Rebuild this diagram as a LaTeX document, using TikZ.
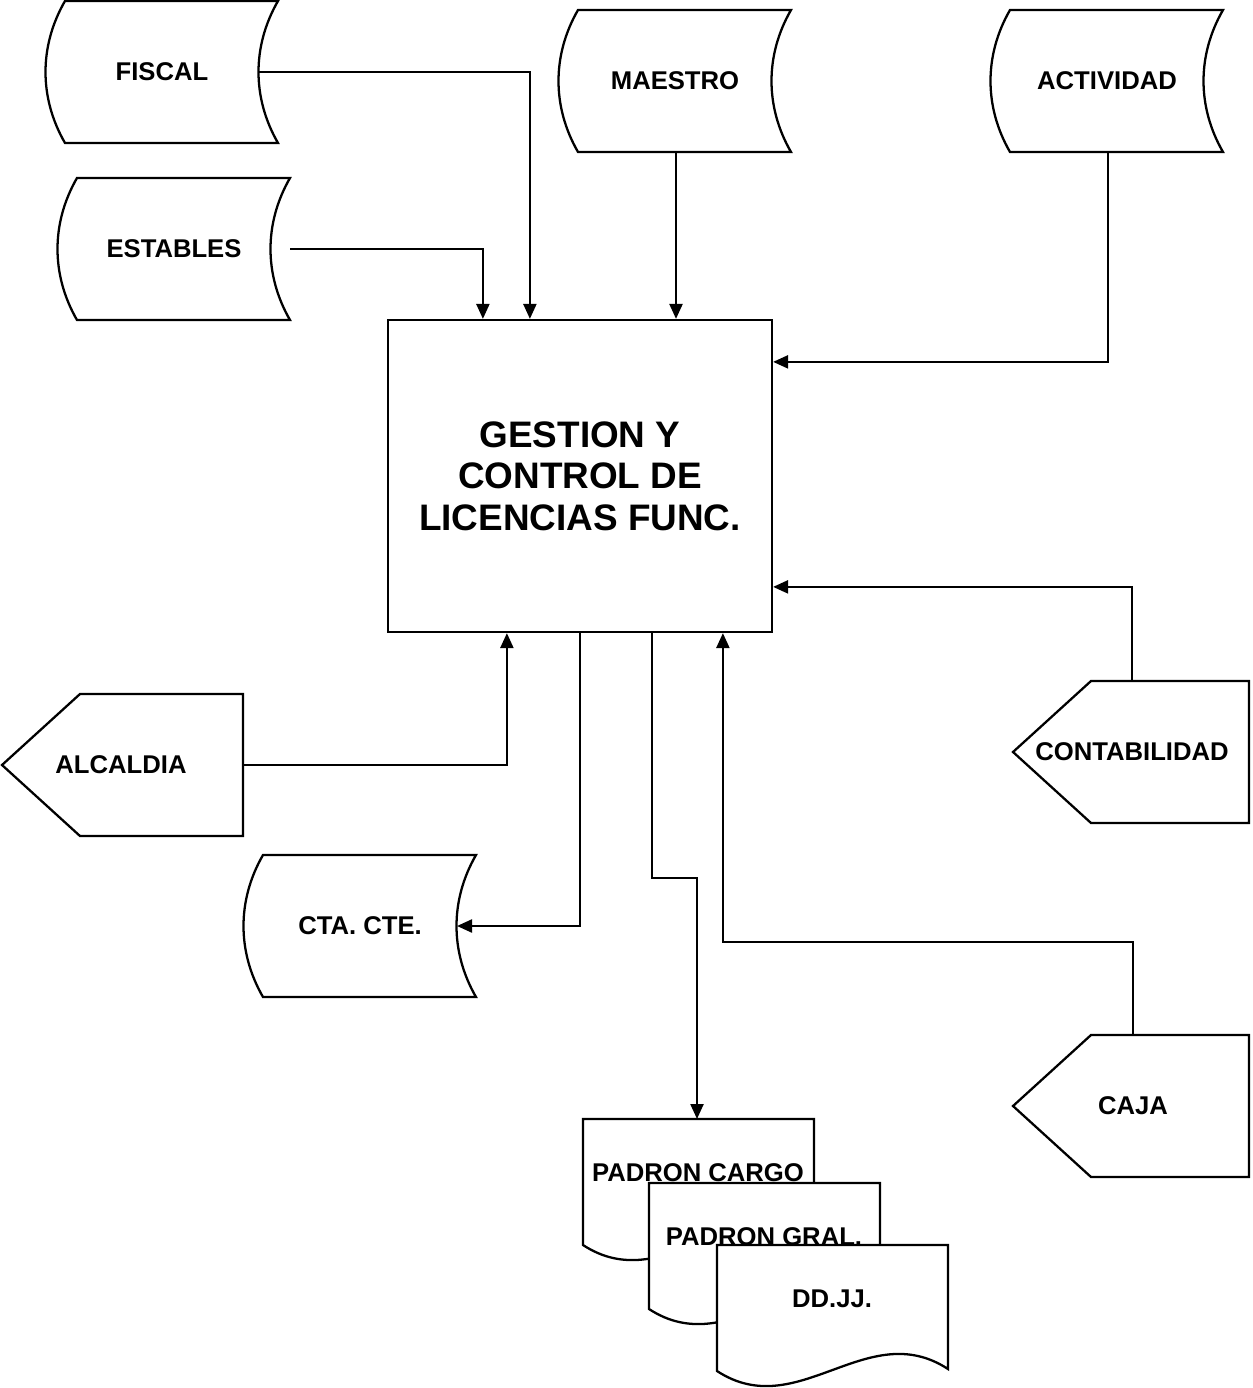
\documentclass[tikz,border=0pt]{standalone}
\usepackage{fontspec}
\setmainfont{Liberation Sans}
\usetikzlibrary{calc,arrows.meta}
\tikzset{
	linea/.style={line width=1.3pt, line join=miter},
	flecha/.style={linea, -{Triangle[length=0.3cm,width=0.26cm]}},
	etiqueta/.style={inner sep=0pt, font=\fontsize{14.6}{17}\selectfont\bfseries},
	caja/.style={draw, line width=1.3pt, minimum width=7.68cm, minimum height=6.24cm,
		align=center, font=\fontsize{21}{23.6}\selectfont\bfseries}
}
% archivo: nombre, x izq, y sup, texto
\newcommand{\archivo}[4]{
	\draw[linea, fill=white] (#2,#3) -- (#2+213,#3)
		.. controls +(-26,45) and +(-26,-45) .. (#2+213,#3+142)
		-- (#2,#3+142)
		.. controls +(-26,-45) and +(-26,45) .. (#2,#3) -- cycle;
	\node[etiqueta] (#1) at (#2+97,#3+71) {#4};
	\coordinate (#1-int) at (#2+194,#3+71);
	\coordinate (#1-der) at (#2+213,#3+71);
	\coordinate (#1-inf) at (#2+98,#3+142);
}
% pantalla: nombre, x punta, y sup, x der, x texto, texto
\newcommand{\pantalla}[6]{
	\draw[linea] (#2,#3+71) -- (#2+78,#3) -- (#4,#3) -- (#4,#3+142) -- (#2+78,#3+142) -- cycle;
	\node[etiqueta] (#1) at (#5,#3+71) {#6};
	\coordinate (#1-sup) at (#5,#3);
	\coordinate (#1-der) at (#4,#3+71);
}
% documento: nombre, x izq, y sup, texto
\newcommand{\documento}[4]{
	\draw[linea, fill=white] (#2,#3) -- (#2+231,#3) -- (#2+231,#3+124)
		.. controls (#2+150,#3+71) and (#2+81,#3+179) .. (#2,#3+126) -- cycle;
	\node[etiqueta] (#1) at (#2+115,#3+54) {#4};
	\coordinate (#1-sup) at (#2+114,#3);
}

\begin{document}
\begin{tikzpicture}[x=0.02cm, y=-0.02cm]
	\useasboundingbox (0,0) rectangle (1252,1388);

	% archivos de entrada
	\archivo{fiscal}{65}{1}{FISCAL}
	\archivo{estables}{77}{178}{ESTABLES}
	\archivo{maestro}{578}{10}{MAESTRO}
	\archivo{actividad}{1010}{10}{ACTIVIDAD}
	\archivo{ctacte}{263}{855}{CTA. CTE.}

	% proceso
	\node[caja] (gestion) at (580,476) {GESTION Y\\CONTROL DE\\LICENCIAS FUNC.};

	% pantallas
	\pantalla{alcaldia}{2}{694}{243}{121}{ALCALDIA}
	\pantalla{contabilidad}{1013}{681}{1249}{1132}{CONTABILIDAD}
	\pantalla{caja}{1013}{1035}{1249}{1133}{CAJA}

	% reportes
	\documento{cargo}{583}{1119}{PADRON CARGO}
	\documento{gral}{649}{1183}{PADRON GRAL.}
	\documento{ddjj}{717}{1245}{DD.JJ.}

	% flujos
	\draw[flecha] (fiscal-int) -| ($(gestion.north west)+(143,0)$);
	\draw[flecha] (estables-der) -| ($(gestion.north west)+(96,0)$);
	\draw[flecha] (maestro-inf) -- (maestro-inf |- gestion.north);
	\draw[flecha] (actividad-inf) |- ($(gestion.north east)+(0,43)$);
	\draw[flecha] (contabilidad-sup) |- ($(gestion.north east)+(0,268)$);
	\draw[flecha] (caja-sup) -- ++(0,-93) -| ($(gestion.south west)+(336,0)$);
	\draw[flecha] (alcaldia-der) -| ($(gestion.south west)+(120,0)$);
	\draw[flecha] ($(gestion.south west)+(193,0)$) |- (ctacte-int);
	\draw[flecha] ($(gestion.south west)+(265,0)$) -- ++(0,245) -| (cargo-sup);
\end{tikzpicture}
\end{document}
